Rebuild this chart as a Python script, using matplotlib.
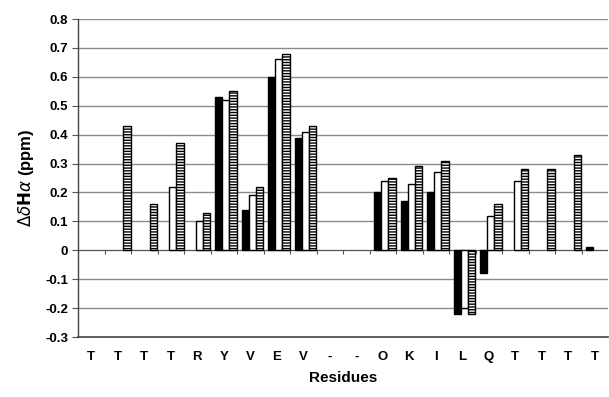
import numpy as np
import matplotlib
matplotlib.use("Agg")
import matplotlib.pyplot as plt

plt.rcParams['font.family'] = ['Liberation Sans', 'DejaVu Sans']
plt.rcParams['hatch.linewidth'] = 1.0

residues = ["T", "T", "T", "T", "R", "Y", "V", "E", "V", "-", "-",
            "O", "K", "I", "L", "Q", "T", "T", "T", "T"]
nan = np.nan
series_black = [nan, nan, nan, nan, nan, 0.53, 0.14, 0.60, 0.39, nan, nan,
                0.20, 0.17, 0.20, -0.22, -0.08, nan, nan, nan, 0.01]
series_white = [nan, nan, nan, 0.22, 0.10, 0.52, 0.19, 0.66, 0.41, nan, nan,
                0.24, 0.23, 0.27, -0.20, 0.12, 0.24, nan, nan, nan]
series_hatch = [nan, 0.43, 0.16, 0.37, 0.13, 0.55, 0.22, 0.68, 0.43, nan, nan,
                0.25, 0.29, 0.31, -0.22, 0.16, 0.28, 0.28, 0.33, nan]
yticks = [-0.3, -0.2, -0.1, 0, 0.1, 0.2, 0.3, 0.4, 0.5, 0.6, 0.7, 0.8]
ytick_labels = ["-0.3", "-0.2", "-0.1", "0", "0.1", "0.2", "0.3", "0.4",
                "0.5", "0.6", "0.7", "0.8"]

fig = plt.figure(figsize=(6.09, 3.97), dpi=100)
ax = fig.add_axes([78/609, 1-337/397, 530/609, (337-19)/397])

x = np.arange(len(residues))
w = 0.27
off = 0.08
ax.bar(x - w + off, series_black, w, color='black', edgecolor='black', linewidth=1.0, zorder=3)
ax.bar(x + off, series_white, w, color='white', edgecolor='black', linewidth=1.0, zorder=3)
ax.bar(x + w + off, series_hatch, w, color='white', edgecolor='black', linewidth=1.0,
       hatch='------', zorder=3)

ax.set_xlim(-0.5, len(residues) - 0.5)
ax.set_ylim(-0.3, 0.8)
for yv in yticks[1:]:
    if yv != 0:
        ax.axhline(yv, color='#8a8a8a', linewidth=1.0, zorder=1)
ax.axhline(0, color='#555555', linewidth=0.9, zorder=2)
ax.vlines(np.arange(len(residues) + 1) - 0.5, -0.012, 0, color='#555555', linewidth=0.8, zorder=2)

ax.set_yticks(yticks)
ax.set_yticklabels(ytick_labels, fontsize=9.5, fontweight='bold')
ax.set_xticks(x)
ax.set_xticklabels(residues, fontsize=9.5, fontweight='bold')
ax.tick_params(axis='x', length=0, pad=10)
ax.tick_params(axis='y', length=4, width=0.8, direction='out', pad=3, color='#555555')

for s in ['top', 'right']:
    ax.spines[s].set_visible(False)
ax.spines['left'].set_color('#444444')
ax.spines['bottom'].set_color('#444444')
ax.spines['left'].set_linewidth(1.0)
ax.spines['bottom'].set_linewidth(1.2)

ax.set_xlabel("Residues", fontsize=11, fontweight='bold', labelpad=6)
ax.set_ylabel(r"$\Delta\delta$" + r"$\mathbf{H}$" + r"$\alpha$" + " (ppm)",
              fontsize=12, fontweight='bold', labelpad=7)

fig.savefig("out.png", dpi=100)
